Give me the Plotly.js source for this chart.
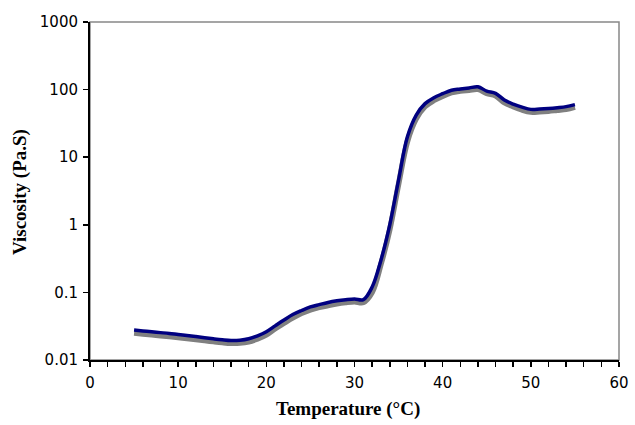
<!DOCTYPE html>
<html>
<head>
<meta charset="utf-8">
<script src="https://cdn.plot.ly/plotly-3.0.1.min.js"></script>
<style>html,body{margin:0;padding:0;background:#fff;}#chart{width:635px;height:425px;}</style>
</head>
<body>
<div id="chart"></div>
<script>
const temperature = [5,6,7,8,9,10,11,12,13,14,15,16,17,18,19,20,21,22,23,24,25,26,27,28,29,30,31,32,33,34,35,36,37,38,39,40,41,42,43,44,45,46,47,48,49,50,51,52,53,54,55];
const viscosityA = [0.0277,0.0269,0.0261,0.0254,0.0247,0.0238,0.0230,0.0222,0.0214,0.0206,0.0199,0.0194,0.0196,0.0206,0.0228,0.0262,0.032,0.039,0.047,0.054,0.061,0.066,0.071,0.075,0.078,0.080,0.078,0.12,0.30,1.0,4.6,20,42,62,76,87,98,102,106,110,95,88,70,61,55,51,51.5,52.5,54,56,60];
const viscosityB = [0.0250,0.0243,0.0236,0.0229,0.0222,0.0215,0.0208,0.0201,0.0194,0.0187,0.0181,0.0177,0.0178,0.0186,0.0205,0.0235,0.029,0.035,0.042,0.049,0.055,0.060,0.064,0.068,0.071,0.073,0.071,0.10,0.26,0.85,4.0,17,37,56,69,80,90,95,98,101,88,81,64,56,50,46.5,47,48,49.5,51,55];
const xTicks = [0,10,20,30,40,50,60];
const yTickVals = [0.01,0.1,1,10,100,1000];
const yTickText = ['0.01','0.1','1','10','100','1000'];
const xTitle = 'Temperature (°C)';
const yTitle = 'Viscosity (Pa.S)';

const traces = [
  {x: temperature, y: viscosityB, type: 'scatter', mode: 'lines', line: {color: '#808080', width: 5.5, shape: 'spline'}, hoverinfo: 'skip'},
  {x: temperature, y: viscosityA, type: 'scatter', mode: 'lines', line: {color: '#000080', width: 3.5, shape: 'spline'}, hoverinfo: 'skip'}
];

const tickFont = {family: 'DejaVu Sans, Verdana, sans-serif', size: 15, color: '#000'};
const titleFont = {family: 'Liberation Serif, Times New Roman, serif', size: 19, weight: 'bold', color: '#000'};

const layout = {
  width: 635, height: 425,
  margin: {l: 90, r: 16, t: 22, b: 65},
  paper_bgcolor: '#fff', plot_bgcolor: '#fff',
  showlegend: false,
  font: tickFont,
  xaxis: {
    range: [0, 60], tickvals: xTicks, ticktext: xTicks.map(String),
    showgrid: false, zeroline: false, showline: true, linecolor: '#000', linewidth: 2,
    ticks: 'outside', ticklen: 5, tickwidth: 1.5, tickcolor: '#000', ticklabelstandoff: 3,
    minor: {dtick: 2, ticks: 'outside', ticklen: 5, tickwidth: 1.5, tickcolor: '#000', showgrid: false},
    tickfont: tickFont
  },
  yaxis: {
    type: 'log', range: [-2, 3], tickvals: yTickVals, ticktext: yTickText,
    showgrid: false, zeroline: false, showline: true, linecolor: '#000', linewidth: 2,
    ticks: 'outside', ticklen: 5, tickwidth: 1.5, tickcolor: '#000', ticklabelstandoff: 2,
    tickfont: tickFont
  },
  annotations: [
    {text: xTitle, xref: 'paper', yref: 'paper', x: 0.488, y: -0.145, xanchor: 'center', yanchor: 'middle', showarrow: false, font: titleFont},
    {text: yTitle, xref: 'paper', yref: 'paper', x: -0.131, y: 0.496, xanchor: 'center', yanchor: 'middle', textangle: -90, showarrow: false, font: titleFont}
  ],
  shapes: [{type: 'rect', xref: 'paper', yref: 'paper', x0: 0, x1: 1, y0: 0, y1: 1, line: {color: '#888', width: 1.5}, layer: 'below'}]
};

Plotly.newPlot('chart', traces, layout, {staticPlot: true, displayModeBar: false});
</script>
</body>
</html>
